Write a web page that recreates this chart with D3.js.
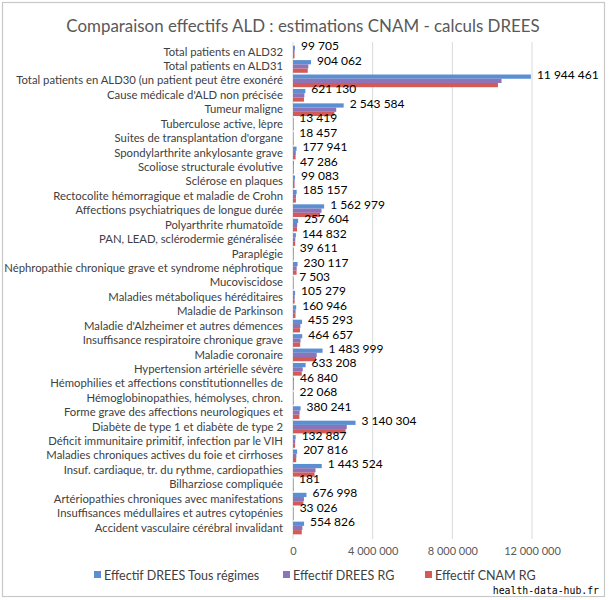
<!DOCTYPE html>
<html><head><meta charset="utf-8">
<script src="https://cdn.jsdelivr.net/npm/d3@7"></script>
<style>body{margin:0;background:#fff}svg{display:block}</style>
</head><body>
<svg id="c" width="609" height="600"></svg>
<script>
const categories = [
"Total patients en ALD32","Total patients en ALD31","Total patients en ALD30 (un patient peut être exonéré",
"Cause médicale d'ALD non précisée","Tumeur maligne","Tuberculose active, lèpre","Suites de transplantation d'organe",
"Spondylarthrite ankylosante grave","Scoliose structurale évolutive","Sclérose en plaques",
"Rectocolite hémorragique et maladie de Crohn","Affections psychiatriques de longue durée","Polyarthrite rhumatoïde",
"PAN, LEAD, sclérodermie généralisée","Paraplégie","Néphropathie chronique grave et syndrome néphrotique",
"Mucoviscidose","Maladies métaboliques héréditaires","Maladie de Parkinson","Maladie d'Alzheimer et autres démences",
"Insuffisance respiratoire chronique grave","Maladie coronaire","Hypertension artérielle sévère",
"Hémophilies et affections constitutionnelles de","Hémoglobinopathies, hémolyses, chron.",
"Forme grave des affections neurologiques et","Diabète de type 1 et diabète de type 2",
"Déficit immunitaire primitif, infection par le VIH","Maladies chroniques actives du foie et cirrhoses",
"Insuf. cardiaque, tr. du rythme, cardiopathies","Bilharziose compliquée",
"Artériopathies chroniques avec manifestations","Insuffisances médullaires et autres cytopénies",
"Accident vasculaire cérébral invalidant"];
const dreesTous = [99705,904062,11944461,621130,2543584,13419,18457,177941,47286,99083,185157,1562979,257604,144832,39611,230117,7503,105279,160946,455293,464657,1483999,633208,46840,22068,380241,3140304,132887,207816,1443524,181,676998,33026,554826];
const dreesRG = [80000,770000,10470000,570000,2170000,10000,15000,140000,38000,80000,150000,1430000,210000,115000,32000,185000,6000,85000,130000,370000,380000,1190000,490000,38000,18000,330000,2700000,110000,170000,1130000,150,550000,27000,470000];
const cnamRG = [75000,740000,10290000,550000,2080000,9000,14000,130000,36000,78000,145000,1360000,200000,110000,30000,180000,5500,82000,125000,350000,360000,1160000,440000,37000,17000,320000,2640000,105000,160000,1080000,140,520000,26000,440000];
const seriesNames = ["Effectif DREES Tous régimes","Effectif DREES RG","Effectif CNAM RG"];
const colors = ["#5b8fd2","#8c74b8","#d35a57"];
const ticks = [0,4000000,8000000,12000000];

const FONT = "Lato, 'Open Sans', sans-serif";
const svg = d3.select("#c");
svg.append("rect").attr("x",2.5).attr("y",2.5).attr("width",602).attr("height",594).attr("fill","#fff").attr("stroke","#c8c8c8").attr("stroke-width",1.2);

svg.append("text").attr("x",303).attr("y",32).attr("text-anchor","middle").style("font-family",FONT).style("font-size","16.9px").attr("fill","#595959").text("Comparaison effectifs ALD : estimations CNAM - calculs DREES");

const x = d3.scaleLinear().domain([0,12000000]).range([293,532]);
const y = d3.scaleBand().domain(categories).range([44.8,535.2]).paddingInner(0.12).paddingOuter(0.06);
const ys = d3.scaleBand().domain([0,1,2]).range([0,y.bandwidth()]);

const fmt = v => d3.format(",")(v).replace(/,/g," ");

// gridlines
svg.append("g").selectAll("line").data(ticks.slice(1)).join("line")
 .attr("x1",d=>x(d)).attr("x2",d=>x(d)).attr("y1",42).attr("y2",539).attr("stroke","#d9d9d9").attr("stroke-width",1);

// axis labels
const xa = svg.append("g").attr("transform","translate(0,539)").call(d3.axisBottom(x).tickValues(ticks).tickSize(0).tickPadding(8).tickFormat(fmt));
xa.select(".domain").remove();
xa.selectAll("text").style("font-size","11px").style("font-family",FONT).attr("fill","#595959");

// category labels
const ya = svg.append("g").attr("transform","translate(283,0)").call(d3.axisLeft(y).tickSize(0).tickPadding(0));
ya.select(".domain").remove();
ya.selectAll("text").style("font-size","11.3px").style("font-family",FONT).attr("fill","#404040");

// zero line
svg.append("line").attr("x1",x(0)).attr("x2",x(0)).attr("y1",42).attr("y2",539).attr("stroke","#d9d9d9");

const all = [dreesTous,dreesRG,cnamRG];
const g = svg.append("g");
all.forEach((arr,si)=>{
  g.selectAll(".b"+si).data(categories).join("rect").attr("class","b"+si)
   .attr("x",x(0)).attr("y",(c)=>y(c)+ys(si))
   .attr("width",(c,i)=>Math.max(0.6,x(arr[i])-x(0))).attr("height",ys.bandwidth())
   .attr("fill",colors[si]);
});

// value labels
svg.append("g").selectAll("text").data(categories).join("text")
 .attr("x",(c,i)=>x(dreesTous[i])+6).attr("y",(c)=>y(c)+ys(0)+ys.bandwidth()/2)
 .attr("dy","0.2em").style("font-family",FONT).style("font-size","12px").attr("fill","#000").text((c,i)=>fmt(dreesTous[i]));

// legend
const lx = [94,283,425];
const lg = svg.append("g");
seriesNames.forEach((n,i)=>{
  lg.append("rect").attr("x",lx[i]).attr("y",571).attr("width",7).attr("height",7).attr("fill",colors[i]);
  lg.append("text").attr("x",lx[i]+10).attr("y",580).style("font-family",FONT).style("font-size","12.5px").attr("fill","#404040").text(n);
});

// watermark
svg.append("rect").attr("x",490).attr("y",585).attr("width",112).attr("height",11).attr("fill","#fff");
svg.append("text").attr("x",599).attr("y",594).attr("text-anchor","end").style("font-family","'DejaVu Sans Mono', monospace").style("font-size","9.8px").attr("fill","#000").text("health-data-hub.fr");
</script>
</body></html>
